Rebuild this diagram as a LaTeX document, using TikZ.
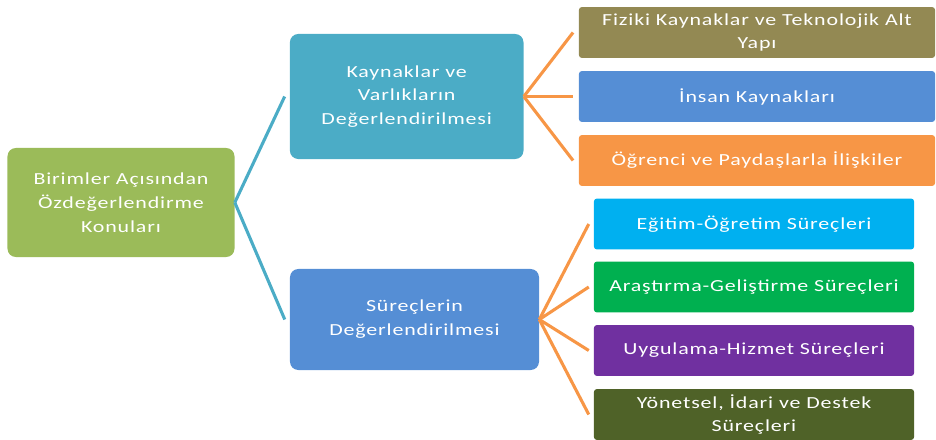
\documentclass[tikz,border=0pt]{standalone}
\usepackage{fontspec}
\setmainfont{Carlito}[FakeStretch=1.3, LetterSpace=5]
\usepackage{xcolor}
\usetikzlibrary{positioning}
\definecolor{trGreen}{HTML}{9BBB59}
\definecolor{trTeal}{HTML}{4BACC6}
\definecolor{trBlue}{HTML}{558ED5}
\definecolor{trOrange}{HTML}{F79646}
\definecolor{trOlive}{HTML}{938953}
\definecolor{trCyan}{HTML}{00B0F0}
\definecolor{trLeaf}{HTML}{00B050}
\definecolor{trPurple}{HTML}{7030A0}
\definecolor{trMoss}{HTML}{4F6228}

\begin{document}
\begin{tikzpicture}[
    x=0.025cm, y=-0.025cm,
    font=\fontsize{12}{17}\selectfont, text=white,
    root/.style={fill=trGreen, rounded corners=6pt, align=center,
                minimum width=5.675cm, minimum height=2.725cm, inner sep=0pt},
    topic/.style={rounded corners=6pt, align=center, inner sep=0pt,
                minimum width=6cm, minimum height=2.5cm},
    leaf/.style={rounded corners=2pt, align=center, inner sep=0pt,
                minimum width=8cm, minimum height=1.27cm},
    trunk/.style={line width=2.2pt, draw=trTeal},
    twig/.style={line width=2.2pt, draw=trOrange}
]
\useasboundingbox (0,0) rectangle (936,440);

% Left: the root subject
\node[root] (r) at (121,202.5) {Birimler Açısından\\Özdeğerlendirme\\Konuları};

% Middle column: the two evaluation areas
\node[topic, fill=trTeal, minimum width=5.84cm, minimum height=3.125cm]
    (ka) at (406.7,96.5) {Kaynaklar ve\\Varlıkların\\Değerlendirilmesi};
\node[topic, fill=trBlue, minimum width=6.225cm, minimum height=2.525cm]
    (sd) at (414.5,319.5) {Süreçlerin\\Değerlendirilmesi};

% Right column, upper group: resources
\node[leaf, fill=trOlive, minimum width=8.9cm] (k1) at (757,32.5)
    {Fiziki Kaynaklar ve Teknolojik Alt\\Yapı};
\node[leaf, fill=trBlue, minimum width=8.9cm] (k2) at (757,96.5)
    {İnsan Kaynakları};
\node[leaf, fill=trOrange, minimum width=8.9cm] (k3) at (757,160.5)
    {Öğrenci ve Paydaşlarla İlişkiler};

% Right column, lower group: processes
\node[leaf, fill=trCyan] (s1) at (754,224) {Eğitim-Öğretim Süreçleri};
\node[leaf, fill=trLeaf] (s2) at (754,287) {Araştırma-Geliştirme Süreçleri};
\node[leaf, fill=trPurple] (s3) at (754,350.5) {Uygulama-Hizmet Süreçleri};
\node[leaf, fill=trMoss] (s4) at (754,414.5)
    {Yönetsel, İdari ve Destek\\Süreçleri};

% Root -> evaluation areas
\draw[trunk] (r.east) -- ([xshift=-3.5pt]ka.west);
\draw[trunk] (r.east) -- ([xshift=-3.5pt]sd.west);

% Resources -> its three items
\foreach \k in {k1,k2,k3}
    \draw[twig] (ka.east) -- ([xshift=-4pt]\k.west);

% Processes -> its four items
\foreach \s in {s1,s2,s3,s4}
    \draw[twig] (sd.east) -- ([xshift=-3.5pt]\s.west);

\end{tikzpicture}
\end{document}
